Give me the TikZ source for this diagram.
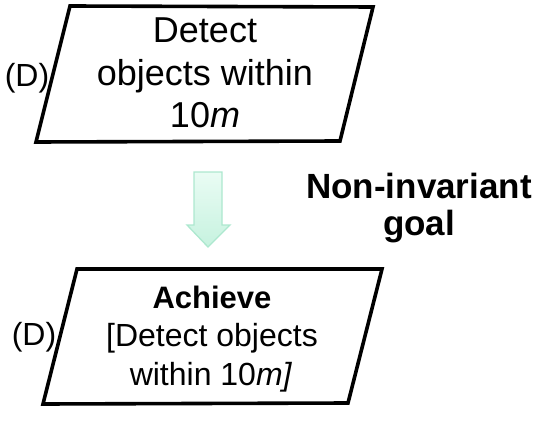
\documentclass[tikz,border=0pt]{standalone}
\usepackage{fontspec}
\setmainfont{Liberation Sans}
\definecolor{mintA}{HTML}{EAFCF4}
\definecolor{mintB}{HTML}{C6F2DF}
\definecolor{mintE}{HTML}{ADE8CF}
\begin{document}
\begin{tikzpicture}[x=1pt,y=-1pt,
  box/.style={draw=black,line width=3.6pt,line join=miter},
  toptxt/.style={anchor=base,inner sep=0pt,font=\fontsize{36}{42}\selectfont},
  bottxt/.style={anchor=base,inner sep=0pt,font=\fontsize{32}{38}\selectfont},
  dlabel/.style={anchor=base,inner sep=0pt,font=\fontsize{32}{38}\selectfont},
  goaltxt/.style={anchor=base,inner sep=0pt,font=\fontsize{35}{40}\selectfont\bfseries},
  blockarrow/.style={top color=mintA,bottom color=mintB,draw=mintE,line width=1.3pt,line join=miter}]
\useasboundingbox (0,0) rectangle (540,422);

% top parallelogram
\draw[box] (70,6) -- (373,7) -- (340,141) -- (36,142) -- cycle;
\node[toptxt] (t1) at (205,42.5) {Detect};
\node[toptxt] (t2) at (205,86) {objects within};
\node[toptxt] (t3) at (205,128) {10\textit{m}};
\node[dlabel] (d1) at (27,87) {(D)};

% block arrow
\draw[blockarrow] (194,172) -- (222,172) -- (222,225) -- (230,225) -- (208,247)
  -- (187,225) -- (194,225) -- cycle;

\node[goaltxt] (g1) at (419,198) {Non-invariant};
\node[goaltxt] (g2) at (419,235) {goal};

% bottom parallelogram
\draw[box] (77,269) -- (382,269) -- (348,403) -- (43,404) -- cycle;
\node[bottxt,font=\fontsize{31}{38}\selectfont\bfseries] (b1) at (212,308) {Achieve};
\node[bottxt] (b2) at (212,346) {[Detect objects};
\node[bottxt] (b3) at (211,385) {within 10\textit{m]}};
\node[dlabel] (d2) at (34,345) {(D)};
\end{tikzpicture}
\end{document}
